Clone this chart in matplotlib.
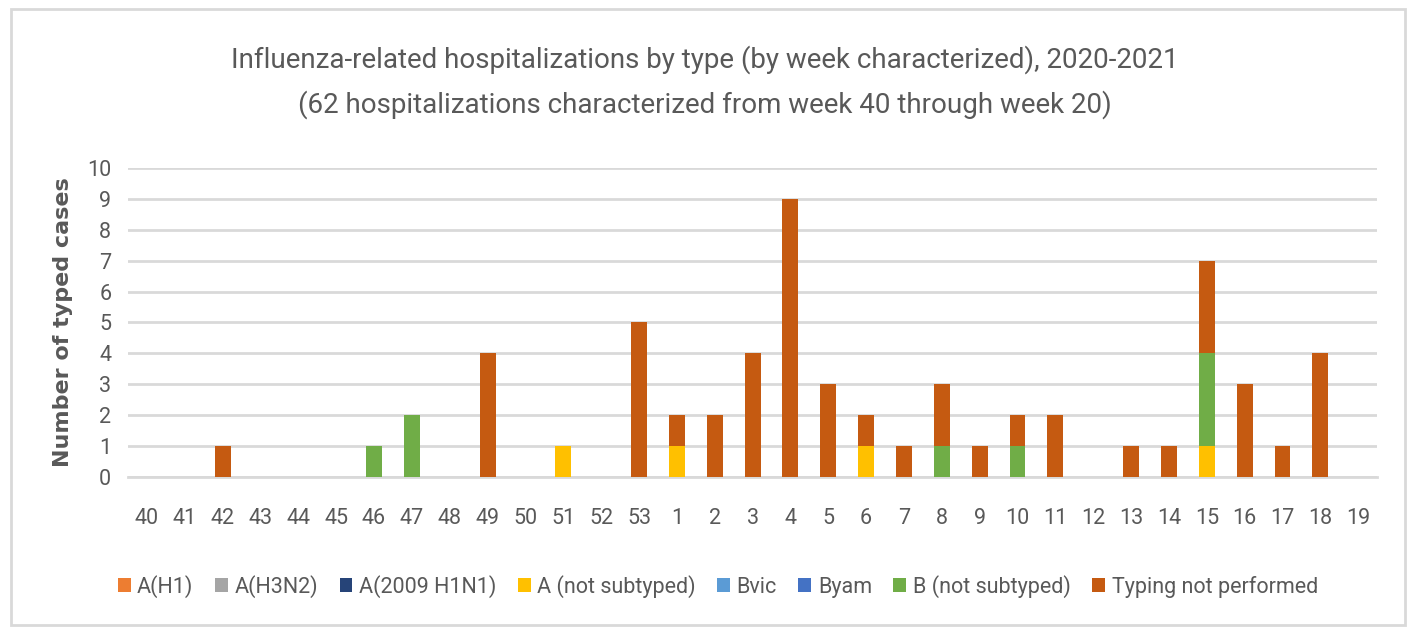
import matplotlib.pyplot as plt
import numpy as np
from matplotlib.patches import Rectangle

weeks = ["40", "41", "42", "43", "44", "45", "46", "47", "48", "49", "50", "51", "52", "53",
         "1", "2", "3", "4", "5", "6", "7", "8", "9", "10", "11", "12", "13", "14", "15",
         "16", "17", "18", "19"]

a_h1 = [0] * 33
a_h3n2 = [0] * 33
a_2009 = [0] * 33
a_not_sub = [0, 0, 0, 0, 0, 0, 0, 0, 0, 0, 0, 1, 0, 0,
             1, 0, 0, 0, 0, 1, 0, 0, 0, 0, 0, 0, 0, 0, 1,
             0, 0, 0, 0]
bvic = [0] * 33
byam = [0] * 33
b_not_sub = [0, 0, 0, 0, 0, 0, 1, 2, 0, 0, 0, 0, 0, 0,
             0, 0, 0, 0, 0, 0, 0, 1, 0, 1, 0, 0, 0, 0, 3,
             0, 0, 0, 0]
not_typed = [0, 0, 1, 0, 0, 0, 0, 0, 0, 4, 0, 0, 0, 5,
             1, 2, 4, 9, 3, 1, 1, 2, 1, 1, 2, 0, 1, 1, 3,
             3, 1, 4, 0]

series = [
    ("A(H1)", a_h1, "#ED7D31"),
    ("A(H3N2)", a_h3n2, "#A5A5A5"),
    ("A(2009 H1N1)", a_2009, "#264478"),
    ("A (not subtyped)", a_not_sub, "#FFC000"),
    ("Bvic", bvic, "#5B9BD5"),
    ("Byam", byam, "#4472C4"),
    ("B (not subtyped)", b_not_sub, "#70AD47"),
    ("Typing not performed", not_typed, "#C55A11"),
]

plt.rcParams['font.family'] = ['Roboto', 'DejaVu Sans']
txt = "#595959"

fig = plt.figure(figsize=(14.13, 6.31), dpi=100)
ax = fig.add_axes([0.0906, 0.244, 0.884, 0.490])

x = np.arange(len(weeks))
bottom = np.zeros(len(weeks))
for name, vals, col in series:
    v = np.array(vals, dtype=float)
    ax.bar(x, v, 0.42, bottom=bottom, color=col, label=name, zorder=3)
    bottom += v

ax.set_xlim(-0.5, len(weeks) - 0.5)
ax.set_ylim(0, 10)
ax.set_yticks(range(11))
ax.set_xticks(x)
ax.set_xticklabels(weeks)
ax.tick_params(length=0, labelsize=15.5, colors=txt, pad=22)
ax.tick_params(axis='y', pad=12)
ax.grid(axis='y', color="#D9D9D9", linewidth=2, zorder=0)
for s in ["top", "right", "left"]:
    ax.spines[s].set_visible(False)
ax.spines["bottom"].set_color("#D9D9D9")
ax.spines["bottom"].set_linewidth(2)

ax.set_ylabel("Number of typed cases", fontsize=16, fontweight="bold",
              color=txt, family="DejaVu Sans", labelpad=10)

fig.text(0.499, 0.905, "Influenza-related hospitalizations by type (by week characterized), 2020-2021",
         ha="center", va="center", fontsize=20, color=txt)
fig.text(0.499, 0.834, "(62 hospitalizations characterized from week 40 through week 20)",
         ha="center", va="center", fontsize=20, color=txt)

fig.legend(loc="center", bbox_to_anchor=(0.508, 0.071), ncol=8, frameon=False,
           fontsize=15.5, labelcolor=txt, handlelength=0.6, handleheight=0.6,
           handletextpad=0.3, columnspacing=1.0)

fig.patches.append(Rectangle((0.008, 0.01), 0.986, 0.975, transform=fig.transFigure,
                             fill=False, edgecolor="#D9D9D9", linewidth=2))

fig.savefig("out.png", dpi=100)
